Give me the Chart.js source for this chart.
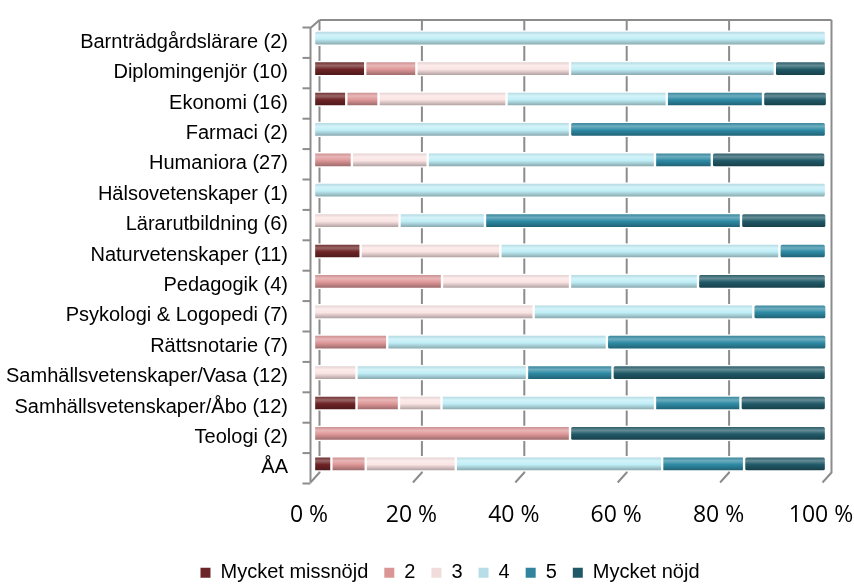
<!DOCTYPE html>
<html>
<head>
<meta charset="utf-8">
<script src="https://cdn.jsdelivr.net/npm/chart.js@4"></script>
<style>
  body { margin: 0; background: #fff; }
  #wrap { width: 854px; height: 585px; }
</style>
</head>
<body>
<div id="wrap"><canvas id="chart" width="854" height="585"></canvas></div>
<script>
// Categories (y axis, top to bottom)
const categories = [
    "Barnträdgårdslärare (2)", "Diplomingenjör (10)", "Ekonomi (16)", "Farmaci (2)",
    "Humaniora (27)", "Hälsovetenskaper (1)", "Lärarutbildning (6)", "Naturvetenskaper (11)",
    "Pedagogik (4)", "Psykologi & Logopedi (7)", "Rättsnotarie (7)", "Samhällsvetenskaper/Vasa (12)",
    "Samhällsvetenskaper/Åbo (12)", "Teologi (2)", "ÅA"
];

// Series names (legend)
const seriesNames = ["Mycket missnöjd", "2", "3", "4", "5", "Mycket nöjd"];

// Share of answers in percent, one array per answer
const mycketMissnojd = [0, 10, 6.3, 0, 0, 0, 0, 9.1, 0, 0, 0, 0, 8.3, 0, 3.4];
const svar2 = [0, 10, 6.3, 0, 7.4, 0, 0, 0, 25, 0, 14.3, 0, 8.3, 50, 6.7];
const svar3 = [0, 30, 25, 0, 14.8, 0, 16.7, 27.3, 25, 42.9, 0, 8.3, 8.3, 0, 17.6];
const svar4 = [100, 40, 31.3, 50, 44.4, 100, 16.7, 54.5, 25, 42.9, 42.9, 33.3, 41.7, 0, 40.3];
const svar5 = [0, 0, 18.8, 50, 11.1, 0, 50, 9.1, 0, 14.3, 42.9, 16.7, 16.7, 0, 16.0];
const mycketNojd = [0, 10, 12.5, 0, 22.2, 0, 16.7, 0, 25, 0, 0, 41.7, 16.7, 50, 16.0];

// Tick values of the x axis
const xTicks = [0, 20, 40, 60, 80, 100];

const seriesValues = [mycketMissnojd, svar2, svar3, svar4, svar5, mycketNojd];
const barColors = ["#6e2426", "#de9798", "#fbe4e4", "#c0eef7", "#2e8aa4", "#215a68"];
const legendColors = ["#6b2528", "#d99694", "#f2dcdb", "#b7dee8", "#31849b", "#215867"];

const labelFont = "'Liberation Sans', Arial, sans-serif";

// mix two hex colours
function mix(a, b, t) {
    const pa = [1, 3, 5].map(i => parseInt(a.substr(i, 2), 16));
    const pb = [1, 3, 5].map(i => parseInt(b.substr(i, 2), 16));
    const c = pa.map((v, i) => Math.round(v + (pb[i] - v) * t));
    return "rgb(" + c.join(",") + ")";
}

// cylinder-like shading for each bar, built on the y scale
function barFill(base) {
    return function (c) {
        const ys = c.chart.scales.y;
        if (!ys || c.dataIndex === undefined) return base;
        const y = ys.getPixelForValue(c.dataIndex);
        const g = c.chart.ctx.createLinearGradient(0, y - 7.5, 0, y + 7.5);
        g.addColorStop(0, mix(base, "#000000", 0.12));
        g.addColorStop(0.3, mix(base, "#ffffff", 0.3));
        g.addColorStop(0.55, base);
        g.addColorStop(1, mix(base, "#000000", 0.35));
        return g;
    };
}

// 3D-style walls and grid lines drawn behind the bars
const wallPlugin = {
    id: "walls",
    afterLayout(chart) {
        // the legend sits a bit right of centre in the original
        if (chart.legend) chart.legend.left += 74;
    },
    beforeDatasetsDraw(chart) {
        const xs = chart.scales.x;
        const ys = chart.scales.y;
        const ctx = chart.ctx;
        const back = 5.5;
        const top = ys.top - 3;
        const backBottom = ys.bottom - 6.5;
        const frontBottom = ys.bottom + 3.5;
        const band = (ys.bottom - ys.top) / categories.length;
        ctx.save();
        ctx.strokeStyle = "#8c8c8c";
        ctx.lineWidth = 2;
        // top edge
        ctx.beginPath();
        ctx.moveTo(xs.getPixelForValue(0) + back, top);
        ctx.lineTo(xs.getPixelForValue(100) + back, top);
        ctx.stroke();
        // grid lines with floor slant
        xTicks.forEach(v => {
            const gx = xs.getPixelForValue(v) + back;
            ctx.beginPath();
            ctx.moveTo(gx, top);
            ctx.lineTo(gx, backBottom);
            ctx.lineTo(gx - 9, frontBottom);
            ctx.stroke();
        });
        // left wall front edge
        const fx = xs.getPixelForValue(0) + back - 9;
        ctx.beginPath();
        ctx.moveTo(xs.getPixelForValue(0) + back, top);
        ctx.lineTo(fx, top + 8);
        ctx.lineTo(fx, frontBottom);
        ctx.stroke();
        // category tick marks
        for (let i = 0; i <= categories.length; i++) {
            const ty = ys.top + band * i + 4.5;
            ctx.beginPath();
            ctx.moveTo(fx - 8, ty);
            ctx.lineTo(fx, ty);
            ctx.stroke();
        }
        ctx.restore();
    }
};

const datasets = seriesNames.map((name, i) => ({
    label: name,
    data: seriesValues[i],
    backgroundColor: barFill(barColors[i]),
    borderColor: "#ffffff",
    borderWidth: 1.5,
    borderSkipped: false,
    borderRadius: 3,
    barThickness: 15
}));

new Chart(document.getElementById("chart"), {
    type: "bar",
    data: { labels: categories, datasets: datasets },
    plugins: [wallPlugin],
    options: {
        indexAxis: "y",
        responsive: false,
        animation: false,
        devicePixelRatio: 1,
        layout: { padding: { top: 23, right: 28, bottom: -7.75, left: 0 } },
        scales: {
            x: {
                stacked: true,
                min: 0,
                max: 100,
                grid: { display: false, drawTicks: false },
                border: { display: false },
                afterBuildTicks: s => { s.ticks = xTicks.map(v => ({ value: v })); },
                afterFit: s => { s.height = 67.75; s.paddingLeft = 0; s.paddingRight = 0; },
                ticks: {
                    padding: 23,
                    labelOffset: -5,
                    color: "#000",
                    font: { family: "'Open Sans', sans-serif", size: 23 },
                    callback: v => v + " %"
                }
            },
            y: {
                stacked: true,
                grid: { display: false, drawTicks: false },
                border: { display: false },
                afterFit: s => { s.width = 314; s.paddingTop = 0; s.paddingBottom = 0; },
                ticks: {
                    padding: 26,
                    labelOffset: 4,
                    color: "#000",
                    autoSkip: false,
                    font: { family: labelFont, size: 20 }
                }
            }
        },
        plugins: {
            tooltip: { enabled: false },
            legend: {
                position: "bottom",
                labels: {
                    boxWidth: 10,
                    boxHeight: 10,
                    padding: 16,
                    color: "#000",
                    font: { family: labelFont, size: 20 },
                    generateLabels: () => seriesNames.map((n, i) => ({
                        text: n,
                        fillStyle: legendColors[i],
                        strokeStyle: legendColors[i],
                        lineWidth: 0,
                        hidden: false,
                        datasetIndex: i
                    }))
                }
            }
        }
    }
});
</script>
</body>
</html>
